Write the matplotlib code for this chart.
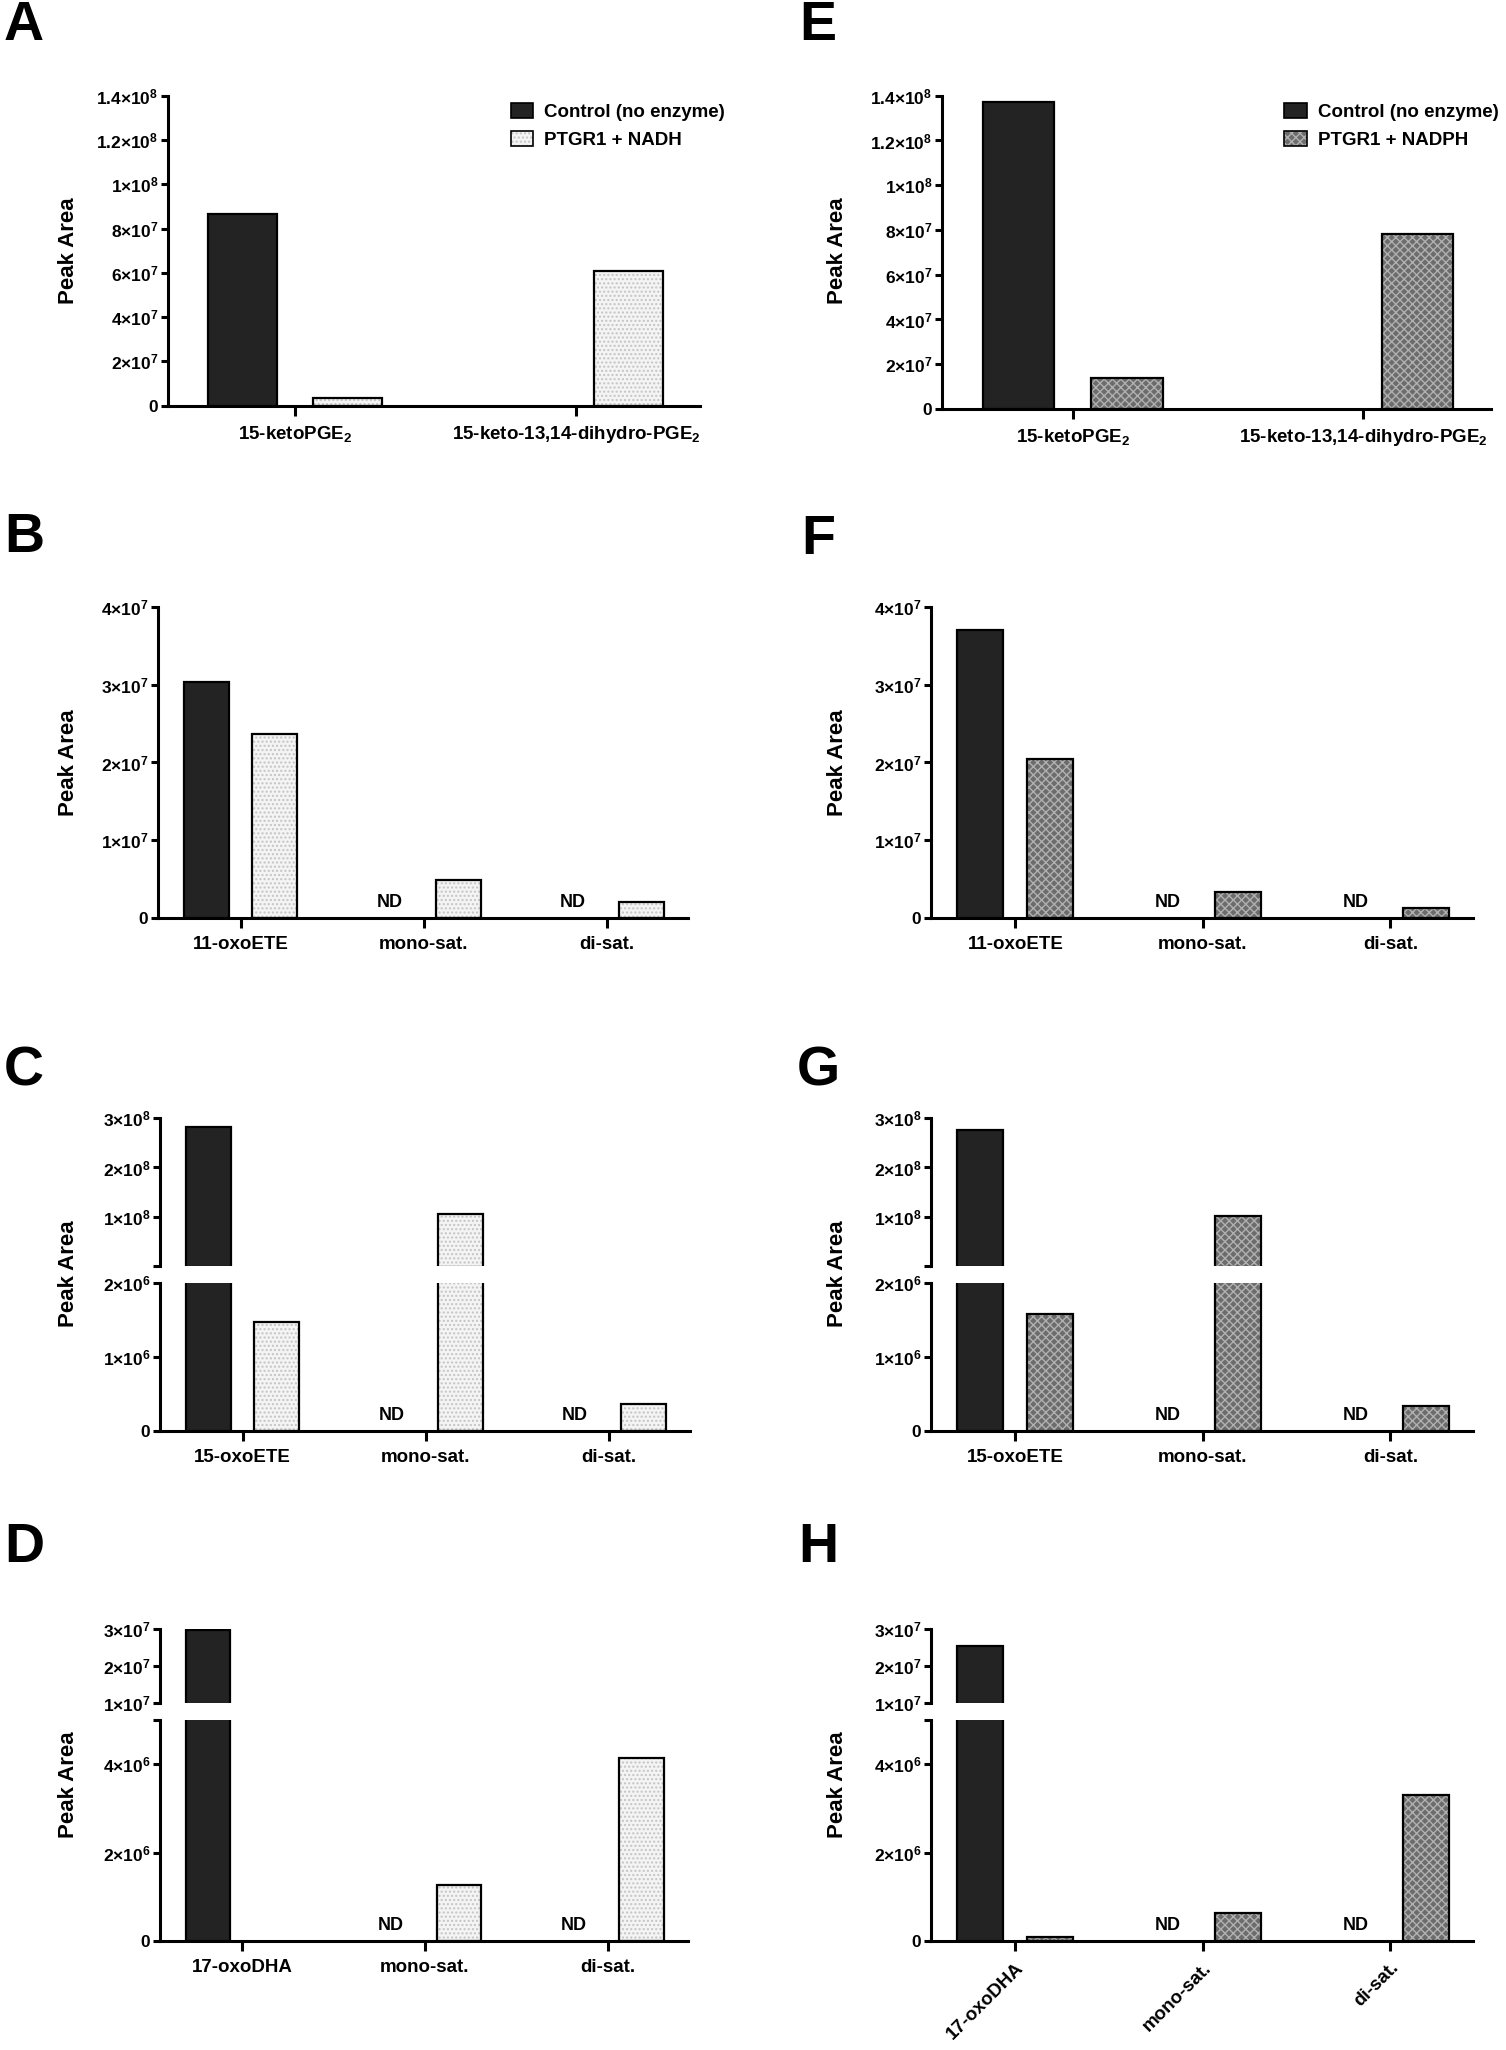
import numpy as np
import matplotlib
matplotlib.use("Agg")
import matplotlib.pyplot as plt
from matplotlib.patches import Patch

plt.rcParams['font.family'] = ['Liberation Sans', 'DejaVu Sans']
plt.rcParams['font.weight'] = 'bold'
plt.rcParams['mathtext.fontset'] = 'custom'
plt.rcParams['mathtext.rm'] = 'Liberation Sans:bold'
plt.rcParams['mathtext.bf'] = 'Liberation Sans:bold'
plt.rcParams['mathtext.it'] = 'Liberation Sans:bold'
plt.rcParams['hatch.linewidth'] = 1.0

# ---- data -------------------------------------------------------------
CTRL_LABEL = "Control (no enzyme)"
NADH_LABEL = "PTGR1 + NADH"
NADPH_LABEL = "PTGR1 + NADPH"

cats_keto = ["15-ketoPGE$_{2}$", "15-keto-13,14-dihydro-PGE$_{2}$"]
cats_11 = ["11-oxoETE", "mono-sat.", "di-sat."]
cats_15 = ["15-oxoETE", "mono-sat.", "di-sat."]
cats_17 = ["17-oxoDHA", "mono-sat.", "di-sat."]

a_ctrl = [8.65e7, 0]
a_ptgr = [3.3e6, 6.1e7]
e_ctrl = [1.37e8, 0]
e_ptgr = [1.37e7, 7.8e7]

b_ctrl = [3.04e7, 0, 0]
b_ptgr = [2.37e7, 4.9e6, 2.1e6]
f_ctrl = [3.71e7, 0, 0]
f_ptgr = [2.04e7, 3.3e6, 1.3e6]

c_ctrl = [2.82e8, 0, 0]
c_ptgr = [1.47e6, 1.07e8, 3.7e5]
g_ctrl = [2.75e8, 0, 0]
g_ptgr = [1.58e6, 1.03e8, 3.4e5]

d_ctrl = [2.98e7, 0, 0]
d_ptgr = [0, 1.26e6, 4.14e6]
h_ctrl = [2.55e7, 0, 0]
h_ptgr = [1.0e5, 6.4e5, 3.3e6]

ticks_ke = [0, 2e7, 4e7, 6e7, 8e7, 1e8, 1.2e8, 1.4e8]
ticks_11 = [0, 1e7, 2e7, 3e7, 4e7]
ticks_15_lo = [0, 1e6, 2e6]
ticks_15_hi = [1e8, 2e8, 3e8]
ticks_17_lo = [0, 2e6, 4e6]
ticks_17_hi = [1e7, 2e7, 3e7]

# ---- style --------------------------------------------------------------
W, H = 1506, 2050
WIDTH, OFF = 0.245, 0.187
CTRL = dict(face="#232323")
NADH = dict(face="#f4f4f4", hatch="....", hcol="#c4c4c4")
NADPH = dict(face="#6c6c6c", hatch="xxxx", hcol="#b0b0b0")
SPW = 2.2
TICK_FS, CAT_FS, LEG_FS = 12.5, 13.5, 13.5


def sci(v):
    if v == 0:
        return "0"
    e = int(np.floor(np.log10(v) + 1e-9))
    m = v / 10 ** e
    ms = f"{m:.1f}".rstrip("0").rstrip(".")
    return f"{ms}×10$^{{{e}}}$"


def rect(x0, x1, ytop, ybot):
    return [x0 / W, 1 - ybot / H, (x1 - x0) / W, (ybot - ytop) / H]


def style_ax(ax, bottom=True):
    for s in ("top", "right"):
        ax.spines[s].set_visible(False)
    ax.spines["left"].set_linewidth(SPW)
    ax.spines["bottom"].set_linewidth(SPW)
    if not bottom:
        ax.spines["bottom"].set_visible(False)
        ax.tick_params(axis="x", bottom=False, labelbottom=False)
    ax.tick_params(axis="y", direction="out", length=5, width=SPW,
                   labelsize=TICK_FS, pad=2)
    ax.tick_params(axis="x", direction="out", length=7, width=SPW,
                   labelsize=CAT_FS, pad=6)


def draw(ax, ctrl, ptgr, st, nd=True, vmin=0):
    x = np.arange(len(ctrl))
    for xi, v in zip(x - OFF, ctrl):
        if v > vmin:
            ax.bar(xi, v, WIDTH, color=CTRL["face"], edgecolor="black",
                   linewidth=1.6, zorder=2)
        elif v == 0 and nd:
            ax.annotate("ND", (xi, 0), xytext=(0, 5), textcoords="offset points",
                        ha="center", va="bottom", fontsize=13, fontweight="bold")
    for xi, v in zip(x + OFF, ptgr):
        if v > vmin:
            ax.bar(xi, v, WIDTH, color=st["face"], hatch=st["hatch"],
                   edgecolor=st["hcol"], linewidth=0, zorder=2)
            ax.bar(xi, v, WIDTH, fill=False, edgecolor="black",
                   linewidth=1.6, zorder=3)
    ax.set_xlim(-0.45, len(ctrl) - 1 + 0.44)


def simple(fig, r, ctrl, ptgr, st, cats, ticks, nd=True):
    ax = fig.add_axes(r)
    draw(ax, ctrl, ptgr, st, nd)
    ax.set_ylim(0, ticks[-1])
    ax.set_yticks(ticks, [sci(t) for t in ticks])
    ax.set_xticks(range(len(cats)), cats)
    style_ax(ax)
    return ax


def broken(fig, x0, x1, y_hi, y_lo, ctrl, ptgr, st, cats,
           lim_hi, t_hi, lim_lo, t_lo, rot=False):
    hi = fig.add_axes(rect(x0, x1, y_hi[0], y_hi[1]))
    lo = fig.add_axes(rect(x0, x1, y_lo[0], y_lo[1]))
    draw(hi, ctrl, ptgr, st, nd=False, vmin=lim_hi[0])
    draw(lo, ctrl, ptgr, st, nd=True)
    hi.set_ylim(*lim_hi)
    lo.set_ylim(*lim_lo)
    ht = sorted(set([lim_hi[0]] + t_hi))
    hi.set_yticks(ht, ["" if t == lim_hi[0] and t not in t_hi else sci(t) for t in ht])
    lt = sorted(set(t_lo + [lim_lo[1]]))
    lo.set_yticks(lt, ["" if t == lim_lo[1] and t not in t_lo else sci(t) for t in lt])
    lo.set_xticks(range(len(cats)), cats)
    style_ax(hi, bottom=False)
    style_ax(lo)
    if rot:
        plt.setp(lo.get_xticklabels(), rotation=45, ha="right",
                 rotation_mode="anchor")
    return hi, lo


def legend(ax, st, label, x, y):
    h1 = Patch(facecolor=CTRL["face"], edgecolor="black", linewidth=1.2)
    h2 = (Patch(facecolor=st["face"], hatch=st["hatch"], edgecolor=st["hcol"],
                linewidth=0),
          Patch(fill=False, edgecolor="black", linewidth=1.2))
    ax.legend([h1, h2], [CTRL_LABEL, label], loc="upper left",
              bbox_to_anchor=(x, y), frameon=False, fontsize=LEG_FS,
              handlelength=1.2, handleheight=0.8, handletextpad=0.6,
              labelspacing=0.55, borderaxespad=0)


fig = plt.figure(figsize=(W / 100, H / 100), dpi=100)

# row 1
ax = simple(fig, rect(168, 700, 95.7, 405.7), a_ctrl, a_ptgr, NADH,
            cats_keto, ticks_ke, nd=False)
legend(ax, NADH, NADH_LABEL, 0.63, 1.0)
ax = simple(fig, rect(942, 1491, 95.7, 409), e_ctrl, e_ptgr, NADPH,
            cats_keto, ticks_ke, nd=False)
legend(ax, NADPH, NADPH_LABEL, 0.61, 1.0)

# row 2
simple(fig, rect(158, 688, 607, 918), b_ctrl, b_ptgr, NADH, cats_11, ticks_11)
simple(fig, rect(931, 1473, 607, 918), f_ctrl, f_ptgr, NADPH, cats_11, ticks_11)

# row 3 (broken axis)
broken(fig, 160, 690, (1117.7, 1266), (1282.7, 1431), c_ctrl, c_ptgr, NADH,
       cats_15, (2e6, 3e8), ticks_15_hi, (0, 2e6), ticks_15_lo)
broken(fig, 931, 1473, (1117.7, 1266), (1282.7, 1431), g_ctrl, g_ptgr, NADPH,
       cats_15, (2e6, 3e8), ticks_15_hi, (0, 2e6), ticks_15_lo)

# row 4 (broken axis)
broken(fig, 160, 688, (1629.3, 1703.3), (1720, 1941), d_ctrl, d_ptgr, NADH,
       cats_17, (1e7, 3e7), ticks_17_hi, (0, 5e6), ticks_17_lo)
broken(fig, 931, 1473, (1629.3, 1703.3), (1720, 1941), h_ctrl, h_ptgr, NADPH,
       cats_17, (1e7, 3e7), ticks_17_hi, (0, 5e6), ticks_17_lo, rot=True)

# y labels
for xc in (68, 838):
    for yc in (251, 763, 1274, 1785):
        fig.text(xc / W, 1 - yc / H, "Peak Area", rotation=90, ha="center",
                 va="center", fontsize=16, fontweight="bold")

# panel letters
for letter, xc, yc in [("A", 24, 26), ("E", 818, 26), ("B", 24, 538),
                       ("F", 818, 540), ("C", 24, 1072), ("G", 818, 1072),
                       ("D", 24, 1548), ("H", 818, 1548)]:
    fig.text(xc / W, 1 - yc / H, letter, ha="center", va="center",
             fontsize=40, fontweight="bold")

fig.savefig("out.png", dpi=100)
